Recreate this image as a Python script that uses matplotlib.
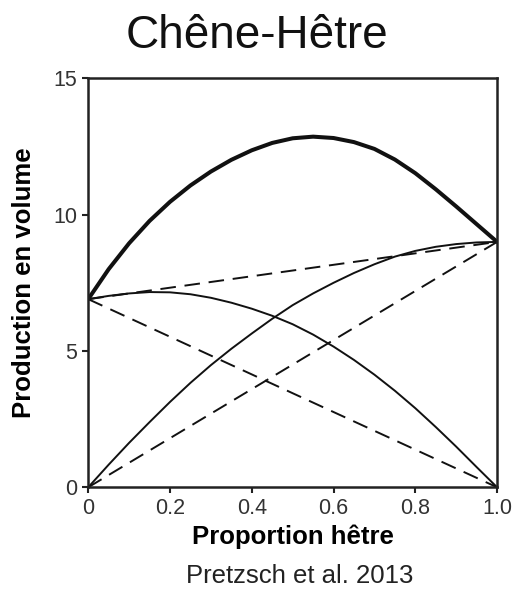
import matplotlib
matplotlib.use("Agg")
import matplotlib.pyplot as plt
import numpy as np

plt.rcParams['font.family'] = ['Liberation Sans', 'DejaVu Sans']

# proportion of beech (x) and values
prop = [0.0, 0.05, 0.1, 0.15, 0.2, 0.25, 0.3, 0.35, 0.4, 0.45, 0.5,
        0.55, 0.6, 0.65, 0.7, 0.75, 0.8, 0.85, 0.9, 0.95, 1.0]
total_mix = [6.9, 8.0, 8.95, 9.77, 10.47, 11.07, 11.58, 12.01, 12.36, 12.63, 12.80,
             12.86, 12.81, 12.66, 12.41, 12.02, 11.52, 10.93, 10.30, 9.65, 9.0]
oak_mix = [6.9, 7.02, 7.11, 7.16, 7.15, 7.08, 6.95, 6.77, 6.55, 6.29, 5.98,
           5.60, 5.16, 4.67, 4.13, 3.54, 2.90, 2.21, 1.49, 0.74, 0.0]
beech_mix = [0.0, 0.83, 1.63, 2.39, 3.13, 3.83, 4.48, 5.08, 5.64, 6.18, 6.68,
             7.11, 7.50, 7.86, 8.18, 8.46, 8.67, 8.82, 8.92, 8.98, 9.0]

# expected (pure stand) lines, end values
prop_ends = [0.0, 1.0]
total_pure = [6.9, 9.0]
oak_pure = [6.9, 0.0]
beech_pure = [0.0, 9.0]

xticks = [0, 0.2, 0.4, 0.6, 0.8, 1.0]
xticklabels = ['0', '0.2', '0.4', '0.6', '0.8', '1.0']
yticks = [0, 5, 10, 15]

fig = plt.figure(figsize=(5.13, 5.91), dpi=100)
ax = fig.add_axes([0.172, 0.1755, 0.797, 0.692])

col = '#111111'
ax.plot(prop, total_mix, color=col, lw=2.9, solid_capstyle='round', solid_joinstyle='round')
ax.plot(prop, oak_mix, color=col, lw=1.4, solid_joinstyle='round')
ax.plot(prop, beech_mix, color=col, lw=1.4, solid_joinstyle='round')
for yy in (total_pure, oak_pure, beech_pure):
    ax.plot(prop_ends, yy, color=col, lw=1.4, dashes=(8, 4.5))

ax.set_xlim(0, 1)
ax.set_ylim(0, 15)
ax.set_xticks(xticks)
ax.set_xticklabels(xticklabels)
ax.set_yticks(yticks)
ax.tick_params(direction='out', length=4, width=1.5, pad=4,
               labelsize=15.5, labelcolor='#333333', color='#222222')
for sp in ax.spines.values():
    sp.set_linewidth(1.8)
    sp.set_color('#222222')

ax.set_xlabel('Proportion hêtre', fontsize=18.5, fontweight='bold', labelpad=4)
ax.set_ylabel('Production en volume', fontsize=18.5, fontweight='bold', labelpad=12)

fig.text(0.50, 0.919, 'Chêne-Hêtre', fontsize=33, ha='center', va='baseline', color='#111111')
fig.text(0.585, 0.005, 'Pretzsch et al. 2013', fontsize=18.5, ha='center', va='bottom',
         color='#222222')

fig.savefig('out.png', dpi=100)
